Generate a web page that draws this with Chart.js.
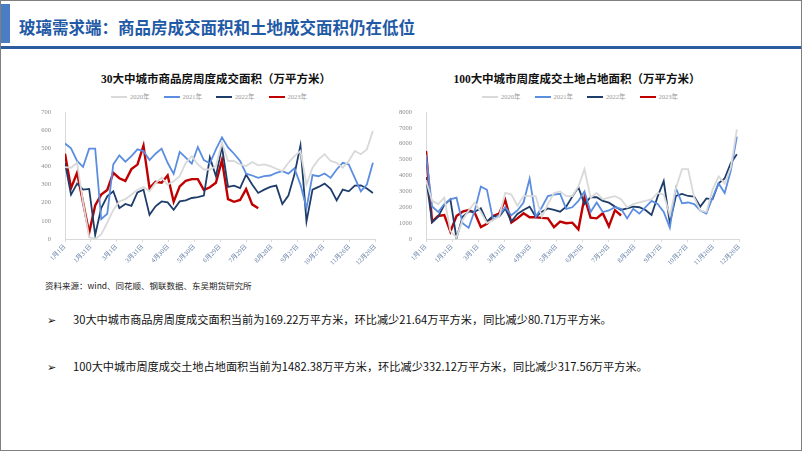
<!DOCTYPE html>
<html>
<head>
<meta charset="utf-8">
<script src="https://cdn.jsdelivr.net/npm/chart.js@4.4.1/dist/chart.umd.min.js"></script>
<style>
  html, body { margin: 0; padding: 0; background: #fff; }
  body { width: 802px; height: 451px; overflow: hidden; position: relative; font-family: 'Noto Sans CJK SC', sans-serif; }
  #frame { position: absolute; left: 0; top: 0; width: 802px; height: 451px; box-sizing: border-box; border: 1px solid #7f7f7f; }
  #tag { position: absolute; left: 1px; top: 4px; width: 9px; height: 39px; background: #4a7dc4; }
  #head { position: absolute; left: 19px; top: 15px; font-size: 16.5px; line-height: 24px; font-weight: bold; color: #1f5aa6; white-space: nowrap; }
  #rule { position: absolute; left: 1px; top: 46px; width: 800px; height: 3px; background: #2b5c9e; }
  .box { position: absolute; }
  .ttl { position: absolute; width: 360px; margin-left: -180px; text-align: center; font-family: 'Liberation Serif', 'Noto Sans CJK SC', serif; font-weight: bold; font-size: 11.5px; line-height: 14px; color: #111; white-space: nowrap; }
  .lgd { position: absolute; width: 300px; margin-left: -150px; display: flex; justify-content: center; font-family: 'Liberation Serif', 'Noto Sans CJK SC', serif; font-size: 6.5px; line-height: 8px; color: #999; }
  .lgd div { display: flex; align-items: center; margin: 0 7px; }
  .lgd i { display: inline-block; width: 16px; height: 2px; margin-right: 3px; }
  #src { position: absolute; left: 45px; top: 279px; font-size: 8.5px; color: #222; white-space: nowrap; }
  .pt { position: absolute; left: 47px; font-size: 11.2px; color: #111; white-space: nowrap; }
  .pt span { display: inline-block; width: 26px; }
</style>
</head>
<body>
<div id="frame"></div>
<div id="tag"></div>
<div id="head">玻璃需求端：商品房成交面积和土地成交面积仍在低位</div>
<div id="rule"></div>

<div class="ttl" style="left:216px;top:72px;">30大中城市商品房周度成交面积（万平方米）</div>
<div class="ttl" style="left:577px;top:72px;">100大中城市周度成交土地占地面积（万平方米）</div>
<div class="lgd" id="lgdHouse" style="left:209px;top:93px;"></div>
<div class="lgd" id="lgdLand" style="left:580px;top:93px;"></div>

<div class="box" style="left:28px;top:100px;"><canvas id="houseChart" width="354" height="171"></canvas></div>
<div class="box" style="left:398px;top:100px;"><canvas id="landChart" width="348" height="171"></canvas></div>

<div id="src">资料来源：wind、同花顺、钢联数据、东吴期货研究所</div>
<div class="pt" style="top:311px;"><span>➢</span>30大中城市商品房周度成交面积当前为169.22万平方米，环比减少21.64万平方米，同比减少80.71万平方米。</div>
<div class="pt" style="top:358px;"><span>➢</span>100大中城市周度成交土地占地面积当前为1482.38万平方米，环比减少332.12万平方米，同比减少317.56万平方米。</div>

<script>
// date axis labels (every 30 days)
const dateLabels = ['1月1日','1月31日','3月1日','3月31日','4月30日','5月30日','6月29日','7月29日','8月28日','9月27日','10月27日','11月26日','12月26日'];
const years = ['2020年','2021年','2022年','2023年'];

// 30大中城市商品房周度成交面积（万平方米），weekly
const house2020 = [396,393,420,200,10,0,25,90,160,207,220,244,272,287,263,309,337,300,318,346,420,457,411,383,383,402,530,430,430,411,402,424,406,411,402,387,374,420,457,485,300,393,439,467,430,420,393,430,485,467,494,596];
const house2021 = [526,500,430,398,498,498,109,139,411,461,426,457,494,485,435,470,498,420,359,480,448,415,507,435,417,494,560,505,470,430,360,350,337,346,350,365,374,360,390,300,170,352,346,361,337,383,420,411,337,263,300,420];
const house2022 = [420,244,305,272,276,22,170,235,263,170,193,183,257,272,133,180,207,202,161,207,213,226,231,239,450,346,509,287,294,281,355,300,254,272,287,294,193,239,355,515,96,272,287,305,276,213,272,263,294,296,278,254];
const house2023 = [470,280,365,200,35,185,245,270,365,335,320,385,410,515,280,315,310,350,205,290,320,330,330,270,285,310,435,220,205,215,275,191,169];

// 100大中城市周度成交土地占地面积（万平方米），weekly
const land2020 = [3700,2400,2200,2600,500,100,1200,1800,2300,1700,1000,1200,1400,2900,2800,2100,2700,2700,2700,1400,2200,2900,3000,2700,2700,3300,4400,2600,2900,2500,2600,2700,2500,2000,2200,2300,2400,2500,2900,2800,1500,3200,4400,4400,2600,1800,1700,3100,3950,3500,4500,6900];
const land2021 = [5300,2050,1700,2200,2500,2600,1000,700,1800,3300,3100,1200,1500,2000,1500,1800,2300,3800,1400,2000,2700,2800,2850,1900,2000,2400,3000,1700,2300,1700,1800,2000,1900,1300,1900,1600,2000,2400,2200,1700,700,3200,2250,2300,2200,1800,1600,2600,3500,2900,4300,6450];
const land2022 = [3900,1050,1400,2150,2500,50,1400,1720,1720,1930,1100,1450,1400,1930,1100,1580,1830,2040,1400,1720,1930,1830,1720,2040,2670,3260,2200,2630,2630,2400,2290,2040,1830,1930,2040,2000,1830,1510,2670,3650,1000,2710,2840,2710,2670,2040,2560,2500,3510,3820,4770,5340];
const land2023 = [5550,1090,1450,1510,460,1450,1720,1830,1650,750,950,1450,1600,2450,1030,1300,1620,1370,1370,1330,1300,740,1090,990,1030,610,2630,1350,1300,1620,800,1815,1482];

const colors = ['#d9d9d9', '#5b8ee0', '#1f3d6b', '#c00000'];
const widths = [1.8, 1.8, 1.8, 2.4];

function weekly(values) {
  return values.map((v, i) => ({ x: i * 7, y: v }));
}

function fillLegend(id) {
  const box = document.getElementById(id);
  years.forEach((y, k) => {
    const item = document.createElement('div');
    item.innerHTML = '<i style="background:' + colors[k] + '"></i>' + y;
    box.appendChild(item);
  });
}

function makeChart(id, series, yMax, yStep, yWidth) {
  new Chart(document.getElementById(id), {
    type: 'line',
    data: {
      datasets: series.map((s, k) => ({
        label: years[k],
        data: weekly(s),
        borderColor: colors[k],
        backgroundColor: colors[k],
        borderWidth: widths[k],
        pointRadius: 0,
        tension: 0
      }))
    },
    options: {
      responsive: false,
      animation: false,
      layout: { padding: { left: 0, right: 4, top: 12, bottom: 0 } },
      plugins: { legend: { display: false }, tooltip: { enabled: false } },
      scales: {
        x: {
          type: 'linear', min: 0, max: 360,
          afterFit: s => { s.height = 32; },
          border: { color: '#d9d9d9' },
          grid: { drawOnChartArea: false, tickLength: 3, color: '#d9d9d9' },
          ticks: {
            stepSize: 30, autoSkip: false, minRotation: 45, maxRotation: 45, padding: 1,
            color: '#5f7aa3',
            font: { family: "'Liberation Serif','Noto Sans CJK SC'", size: 6.5 },
            callback: v => dateLabels[Math.round(v / 30)]
          }
        },
        y: {
          min: 0, max: yMax,
          afterFit: s => { s.width = yWidth; },
          border: { color: '#d9d9d9' },
          grid: { display: false },
          ticks: {
            stepSize: yStep, padding: 6, color: '#8c8c8c',
            font: { family: "'Liberation Serif'", size: 6.5 },
            callback: v => String(v)
          }
        }
      }
    }
  });
}

fillLegend('lgdHouse');
fillLegend('lgdLand');
makeChart('houseChart', [house2020, house2021, house2022, house2023], 700, 100, 37);
makeChart('landChart', [land2020, land2021, land2022, land2023], 8000, 1000, 28);
</script>
</body>
</html>
